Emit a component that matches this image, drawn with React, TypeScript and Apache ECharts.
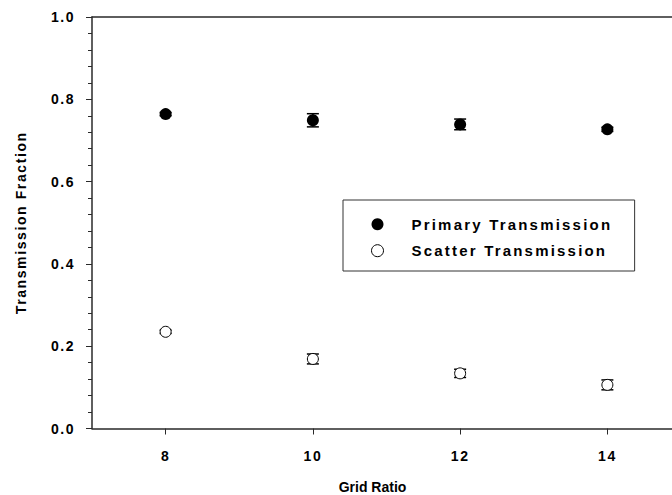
import React, { useEffect, useRef } from "react";
import * as echarts from "echarts";

// Grid ratios on the x axis
const gridRatios = [8, 10, 12, 14];
// Mean transmission fractions and their standard deviations
const primaryValues = [0.764, 0.749, 0.739, 0.727];
const primaryErrors = [0.004, 0.016, 0.013, 0.005];
const scatterValues = [0.235, 0.169, 0.134, 0.106];
const scatterErrors = [0.004, 0.012, 0.01, 0.012];
// Tick values
const xTicks = [8, 10, 12, 14];

const FONT = "'Liberation Sans', Arial, Helvetica, sans-serif";
const AXIS_COLOR = "#2a2a2a";

// Extra letter spacing per text, applied to the SVG output
function spacingFor(text: string): number | null {
  if (text === "Primary Transmission" || text === "Scatter Transmission") return 2.2;
  if (text === "Transmission Fraction") return 1.6;
  if (/^[0-9.]+$/.test(text)) return 1.5;
  return null;
}

export default function App() {
  const ref = useRef<HTMLDivElement>(null);

  useEffect(() => {
    if (!ref.current) return;
    const el = ref.current;
    const chart = echarts.init(el, null, { renderer: "svg" });

    const errorBars = (name: string, values: number[], errors: number[]) => ({
      name,
      type: "custom",
      z: 1,
      silent: true,
      encode: { x: 0, y: 1 },
      data: gridRatios.map((x, i) => [x, values[i], errors[i]]),
      renderItem: (_params: any, api: any) => {
        const x = api.value(0);
        const y = api.value(1);
        const e = api.value(2);
        const top = api.coord([x, y + e]);
        const bot = api.coord([x, y - e]);
        const half = 6;
        const style = { stroke: "#000", lineWidth: 1.5 };
        return {
          type: "group",
          children: [
            { type: "line", shape: { x1: top[0], y1: top[1], x2: bot[0], y2: bot[1] }, style },
            { type: "line", shape: { x1: top[0] - half, y1: top[1], x2: top[0] + half, y2: top[1] }, style },
            { type: "line", shape: { x1: bot[0] - half, y1: bot[1], x2: bot[0] + half, y2: bot[1] }, style },
          ],
        };
      },
    });

    const option: any = {
      animation: false,
      backgroundColor: "#fff",
      grid: { left: 92, right: -9, top: 17, bottom: 66.5, outerBoundsMode: "none", containLabel: false },
      legend: {
        orient: "vertical",
        left: 343,
        top: 200,
        padding: [16.8, 66.4, 12.8, 28],
        itemWidth: 58,
        itemHeight: 12,
        itemGap: 11.4,
        borderColor: "#333",
        borderWidth: 1,
        backgroundColor: "#fff",
        selectedMode: false,
        textStyle: {
          fontFamily: FONT,
          fontWeight: "bold",
          fontSize: 15,
          lineHeight: 15,
          color: "#000",
        },
        data: [
          { name: "Primary Transmission", icon: "circle", itemStyle: { color: "#000", borderWidth: 0 } },
          {
            name: "Scatter Transmission",
            icon: "circle",
            itemStyle: { color: "#fff", borderColor: "#000", borderWidth: 1 },
          },
        ],
      },
      xAxis: [
        {
          type: "value",
          min: 7,
          max: 15,
          name: "Grid Ratio",
          nameLocation: "middle",
          nameGap: 51,
          nameTextStyle: {
            fontFamily: FONT,
            fontWeight: "bold",
            fontSize: 14,
            color: "#000",
            padding: [0, 28, 0, 0],
          },
          axisLine: { show: true, onZero: false, lineStyle: { color: AXIS_COLOR, width: 1.5 } },
          axisTick: { show: true, length: 6, customValues: xTicks, lineStyle: { color: AXIS_COLOR, width: 1 } },
          axisLabel: {
            customValues: xTicks,
            margin: 20,
            fontFamily: FONT,
            fontWeight: "bold",
            fontSize: 14,
            color: "#000",
          },
          splitLine: { show: false },
        },
        {
          type: "value",
          position: "top",
          min: 7,
          max: 15,
          axisLine: { show: true, onZero: false, lineStyle: { color: AXIS_COLOR, width: 1.5 } },
          axisTick: { show: false },
          axisLabel: { show: false },
          splitLine: { show: false },
        },
      ],
      yAxis: {
        type: "value",
        min: 0,
        max: 1,
        interval: 0.2,
        name: "Transmission Fraction",
        nameLocation: "middle",
        nameGap: 64,
        nameTextStyle: {
          fontFamily: FONT,
          fontWeight: "bold",
          fontSize: 14,
          color: "#000",
        },
        axisLine: { show: true, lineStyle: { color: AXIS_COLOR, width: 1.5 } },
        axisTick: { show: true, length: 6, lineStyle: { color: AXIS_COLOR, width: 1 } },
        minorTick: { show: true, splitNumber: 5, length: 4, lineStyle: { color: AXIS_COLOR, width: 1 } },
        axisLabel: {
          margin: 17,
          fontFamily: FONT,
          fontWeight: "bold",
          fontSize: 14,
          color: "#000",
          formatter: (v: number) => v.toFixed(1),
        },
        splitLine: { show: false },
        minorSplitLine: { show: false },
      },
      series: [
        errorBars("primary-error", primaryValues, primaryErrors),
        errorBars("scatter-error", scatterValues, scatterErrors),
        {
          name: "Primary Transmission",
          type: "scatter",
          z: 3,
          symbol: "circle",
          symbolSize: 12,
          itemStyle: { color: "#000", opacity: 1 },
          data: gridRatios.map((x, i) => [x, primaryValues[i]]),
        },
        {
          name: "Scatter Transmission",
          type: "scatter",
          z: 3,
          symbol: "circle",
          symbolSize: 11,
          itemStyle: { color: "#fff", borderColor: "#000", borderWidth: 1, opacity: 1 },
          data: gridRatios.map((x, i) => [x, scatterValues[i]]),
        },
      ],
    };

    chart.setOption(option);

    const applySpacing = () => {
      el.querySelectorAll("text").forEach((t) => {
        const s = spacingFor((t.textContent || "").trim());
        if (s != null) (t as SVGTextElement).style.letterSpacing = s + "px";
      });
    };
    applySpacing();
    chart.on("finished", applySpacing);
    const timer = setTimeout(applySpacing, 50);

    return () => {
      clearTimeout(timer);
      chart.dispose();
    };
  }, []);

  return (
    <div
      ref={ref}
      style={{ position: "absolute", left: 0, top: 0, width: 672, height: 495, background: "#fff" }}
    />
  );
}
